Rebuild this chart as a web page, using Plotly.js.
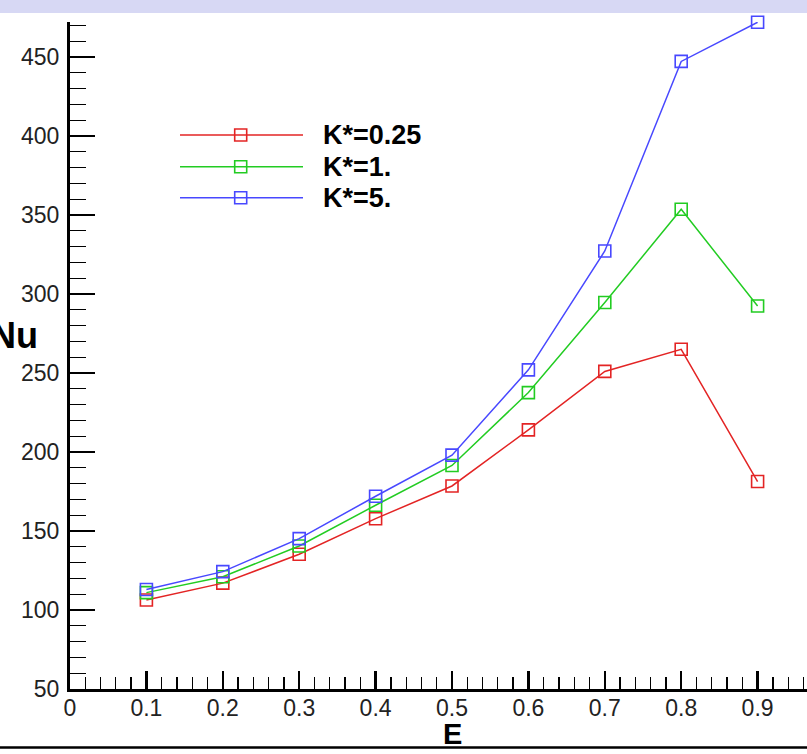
<!DOCTYPE html>
<html>
<head>
<meta charset="utf-8">
<script src="https://cdn.plot.ly/plotly-3.0.1.min.js"></script>
<style>
html,body{margin:0;padding:0;background:#fff;overflow:hidden;}
#chart{width:807px;height:754px;}
</style>
</head>
<body>
<div id="chart"></div>
<script>
// ---- data ----
const E = [0.1, 0.2, 0.3, 0.4, 0.5, 0.6, 0.7, 0.8, 0.9];
const nuK025 = [106.3, 117, 135.3, 157.8, 178.5, 214, 251, 265, 181.3];
const nuK1 = [111, 121, 140.5, 166.3, 191.5, 237.6, 294.6, 353.6, 292.4];
const nuK5 = [113, 124.3, 145.2, 172, 198, 252, 327.2, 447.2, 472];
const seriesNames = ["K*=0.25", "K*=1.", "K*=5."];
const seriesColors = ["#e32424", "#22cc22", "#4848ff"];
const xTickVals = [0, 0.1, 0.2, 0.3, 0.4, 0.5, 0.6, 0.7, 0.8, 0.9];
const xTickText = ["0", "0.1", "0.2", "0.3", "0.4", "0.5", "0.6", "0.7", "0.8", "0.9"];
const yTickVals = [50, 100, 150, 200, 250, 300, 350, 400, 450];
const yTickText = ["50", "100", "150", "200", "250", "300", "350", "400", "450"];

// ---- geometry helpers (pixel -> paper) ----
const W = 807, H = 754;
const L = 70, T = 22, B = 65;
const PW = W - L, PH = H - T - B;
const px = v => (v - L) / PW;
const py = v => (H - B - v) / PH;

const ys = [nuK025, nuK1, nuK5];
const traces = ys.map((y, i) => ({
  x: E, y: y, type: 'scatter', mode: 'lines+markers', name: seriesNames[i],
  line: {color: seriesColors[i], width: 1.5},
  marker: {symbol: 'square-open', size: 12, color: seriesColors[i], line: {width: 1.6, color: seriesColors[i]}},
  cliponaxis: false, showlegend: false
}));

// custom legend
const legY = [135, 166.7, 197.7];
const shapes = [];
const annotations = [];
legY.forEach((yy, i) => {
  shapes.push({type: 'line', xref: 'paper', yref: 'paper', x0: px(180), x1: px(303), y0: py(yy), y1: py(yy),
    line: {color: seriesColors[i], width: 1.5}});
  shapes.push({type: 'rect', xref: 'paper', yref: 'paper', xsizemode: 'pixel', ysizemode: 'pixel',
    xanchor: px(240.7), yanchor: py(yy), x0: -6, x1: 6, y0: -6, y1: 6,
    line: {color: seriesColors[i], width: 1.6}, fillcolor: 'rgba(0,0,0,0)'});
  annotations.push({xref: 'paper', yref: 'paper', x: px(321), y: py(yy), xanchor: 'left', yanchor: 'middle',
    text: '<b>' + seriesNames[i] + '</b>', showarrow: false,
    font: {family: 'Liberation Sans, Arial, sans-serif', size: 27, color: '#000'}});
});
// top lavender band
shapes.push({type: 'rect', xref: 'paper', yref: 'paper', x0: px(-5), x1: px(820), y0: py(13), y1: py(-5),
  line: {width: 0}, fillcolor: '#d7d8f4', layer: 'below'});
// bottom frame line
shapes.push({type: 'line', xref: 'paper', yref: 'paper', x0: px(-5), x1: px(820), y0: py(747.5), y1: py(747.5),
  line: {color: '#000', width: 2.5}});

annotations.push({xref: 'x', yref: 'paper', x: 0.5, y: py(734), xanchor: 'center', yanchor: 'middle',
  text: '<b>E</b>', showarrow: false, font: {family: 'Liberation Sans, Arial, sans-serif', size: 29, color: '#000'}});
annotations.push({xref: 'paper', yref: 'paper', x: px(40), y: py(335), xanchor: 'right', yanchor: 'middle',
  text: '<b>Nu</b>', showarrow: false, font: {family: 'Liberation Sans, Arial, sans-serif', size: 36, color: '#000'}});

const tickFont = {family: 'Liberation Sans, Arial, sans-serif', size: 23, color: '#222'};

const layout = {
  width: W, height: H,
  margin: {l: L, r: 0, t: T, b: B, pad: 0},
  paper_bgcolor: '#fff', plot_bgcolor: '#fff',
  showlegend: false,
  xaxis: {
    range: [0, PW / 764], showgrid: false, zeroline: false,
    showline: true, linecolor: '#000', linewidth: 3,
    ticks: 'inside', ticklen: 18, tickwidth: 2.5, tickcolor: '#000',
    tickvals: xTickVals, ticktext: xTickText, tickfont: tickFont,
    ticklabelstandoff: -4,
    minor: {dtick: 0.02, ticks: 'inside', ticklen: 12, tickwidth: 1.3, tickcolor: '#000', showgrid: false}
  },
  yaxis: {
    range: [50, 50 + PH / 1.58], showgrid: false, zeroline: false,
    showline: true, linecolor: '#000', linewidth: 3,
    ticks: 'inside', ticklen: 25, tickwidth: 2.5, tickcolor: '#000',
    tickvals: yTickVals, ticktext: yTickText, tickfont: tickFont,
    ticklabelstandoff: 3,
    minor: {dtick: 10, ticks: 'inside', ticklen: 16, tickwidth: 1.3, tickcolor: '#000', showgrid: false}
  },
  shapes: shapes,
  annotations: annotations
};

Plotly.newPlot('chart', traces, layout, {displayModeBar: false, staticPlot: true});
</script>
</body>
</html>
